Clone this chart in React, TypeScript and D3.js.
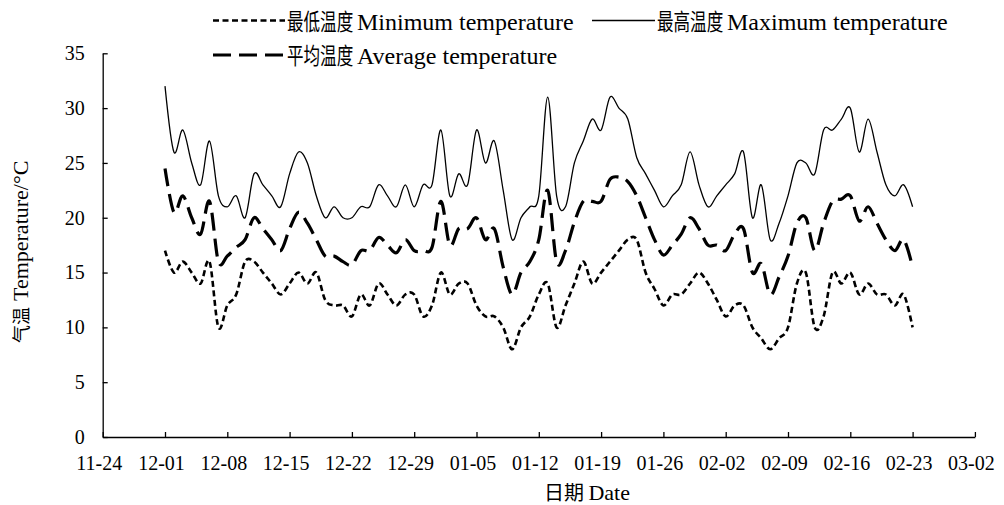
import { MutableRefObject, useLayoutEffect, useRef } from "react";
import * as d3 from "d3";

// daily values, 12-01 .. 02-23
const firstDay = "2018-12-01";
const axisFrom = "2018-11-24";
const axisTo = "2019-03-02";

const maxTemp = [
    32, 26, 28, 25, 23, 27, 22, 21, 22, 20,
    24, 23, 22, 21, 24, 26, 25, 22, 20, 21,
    20, 20, 21, 21, 23, 22, 21, 23, 21, 23,
    23, 28, 22, 24, 23, 28, 25, 27, 22.5, 18,
    20, 21, 22, 31, 22, 21, 25, 27, 29, 28,
    31, 30, 29, 25.5, 24, 22.5, 21, 22, 23, 26,
    23, 21, 22, 23, 24, 26, 20, 23, 18, 19.5,
    22, 25, 25, 24, 28, 28, 29, 30, 26, 29,
    26, 23, 22, 23, 21,
];

const avgTemp = [
    24.5, 20.5, 22, 20, 18.5, 21.5, 16, 16.5, 17.3, 18,
    20, 19, 18, 17, 19, 20.5, 19.5, 18, 16.5, 16.5,
    16, 15.7, 17, 17, 18.2, 17.5, 16.8, 18, 17, 17,
    17.3, 21.5, 17.5, 19, 19, 20, 18, 19, 15.5, 13,
    15, 16, 18, 22.5, 16, 17, 19.6, 21.5, 21.5, 21.5,
    23.5, 23.7, 23.3, 22, 20, 18, 16.6, 17.5, 18.5, 20,
    19, 17.5, 17.5, 17, 18.5, 19, 15, 15.8, 13, 14.6,
    16.5, 19.5, 20, 17, 19.5, 21.5, 21.7, 22, 19.7, 21,
    19.5, 18, 17, 18, 15.5,
];

const minTemp = [
    17, 15, 16, 15, 14, 16, 10, 12, 13, 16,
    16, 15, 14, 13, 14, 15, 14, 15, 12.5, 12,
    12, 11, 13, 12, 14, 13, 12, 13, 13, 11,
    12, 15, 13, 14, 14, 12, 11, 11, 10, 8,
    10, 11, 13, 14, 10, 12, 14, 16, 14, 15,
    16, 17, 18, 18, 15, 13.5, 12, 13, 13, 14,
    15, 14, 12.5, 11, 12, 12, 10, 9, 8, 9,
    10, 14, 15, 10, 11, 15, 14, 15, 13, 14,
    13, 13, 12, 13, 10,
];

const yTicks = [0, 5, 10, 15, 20, 25, 30, 35];

const seriesNames = [
    { cjk: "最低温度", latin: "Minimum temperature" },
    { cjk: "最高温度", latin: "Maximum temperature" },
    { cjk: "平均温度", latin: "Average temperature" },
];
const xTitle = { cjk: "日期", latin: "Date" };
const yTitle = { cjk: "气温", latin: "Temperature/°C" };

const SERIF = "\"Times New Roman\", \"Liberation Serif\", Tinos, \"DejaVu Serif\", serif";
const CJK = "\"Noto Sans CJK SC\", sans-serif";

function App() {
    const svgRef = useRef<SVGSVGElement>() as MutableRefObject<SVGSVGElement | null>;
    useLayoutEffect(() => {
        const svg = svgRef.current!;
        render(svg);
        return () => { svg.innerHTML = ""; };
    }, []);
    return (
        <svg ref={svgRef} width={1004} height={505}
            style={{ position: "absolute", left: 0, top: 0, background: "#fff" }} />
    );
}

function render(el: SVGSVGElement) {
    const root = d3.select(el);
    const parse = d3.utcParse("%Y-%m-%d");
    const start = parse(firstDay)!;
    const dates = maxTemp.map((_, i) => d3.utcDay.offset(start, i));
    const from = parse(axisFrom)!;
    const to = parse(axisTo)!;

    const x = d3.scaleUtc().domain([from, to]).range([102.7, 974.9]);
    const y = d3.scaleLinear().domain([0, 35]).range([437, 53.3]);
    const xTicks = d3.utcDay.range(from, d3.utcDay.offset(to, 1), 7);

    const gx = root.append("g")
        .attr("transform", `translate(0,${y(0)})`)
        .call(d3.axisBottom(x)
            .tickValues(xTicks)
            .tickFormat(d => d3.utcFormat("%m-%d")(d as Date))
            .tickSizeInner(-5).tickSizeOuter(0).tickPadding(19));
    gx.selectAll("text").attr("dx", -4);

    const gy = root.append("g")
        .attr("transform", `translate(${x(from)},0)`)
        .call(d3.axisLeft(y).tickValues(yTicks).tickSizeInner(-5).tickSizeOuter(0).tickPadding(18));

    [gx, gy].forEach(g => {
        g.attr("font-family", SERIF).attr("font-size", 20);
        g.selectAll("path, line").attr("stroke", "#000").attr("stroke-width", 1.3);
        g.selectAll("text").attr("fill", "#000");
    });

    const line = d3.line<number>()
        .x((_, i) => x(dates[i]))
        .y(d => y(d))
        .curve(d3.curveCardinal.tension(0));

    const styles = [
        { data: minTemp, width: 2.6, dash: "6,3.5" },
        { data: maxTemp, width: 1.3, dash: null },
        { data: avgTemp, width: 3.2, dash: "18,8" },
    ];
    styles.forEach(s => {
        root.append("path")
            .attr("d", line(s.data))
            .attr("fill", "none")
            .attr("stroke", "#000")
            .attr("stroke-width", s.width)
            .attr("stroke-dasharray", s.dash);
    });

    // legend
    const legendPos = [
        { x0: 213, x1: 285, y: 20.5 },
        { x0: 592, x1: 655, y: 20.5 },
        { x0: 213, x1: 285, y: 55 },
    ];
    seriesNames.forEach((n, i) => {
        const p = legendPos[i];
        const s = styles[i];
        root.append("line")
            .attr("x1", p.x0).attr("x2", p.x1).attr("y1", p.y).attr("y2", p.y)
            .attr("stroke", "#000")
            .attr("stroke-width", s.width)
            .attr("stroke-dasharray", s.dash);
        root.append("text")
            .attr("transform", `translate(${p.x1 + 2},${p.y + 9}) scale(0.72,1)`)
            .attr("font-family", CJK).attr("font-size", 23)
            .text(n.cjk);
        root.append("text")
            .attr("x", p.x1 + 72).attr("y", p.y + 9)
            .attr("font-family", SERIF).attr("font-size", 24)
            .text(n.latin);
    });

    // y title
    const yt = root.append("g").attr("transform", "translate(28,343) rotate(-90)");
    yt.append("text").attr("font-family", CJK).attr("font-size", 18).text(yTitle.cjk);
    yt.append("text").attr("x", 42).attr("font-family", SERIF).attr("font-size", 22).text(yTitle.latin);

    // x title
    const xt = root.append("text")
        .attr("x", 587).attr("y", 500)
        .attr("text-anchor", "middle");
    xt.append("tspan").attr("font-family", CJK).attr("font-size", 20).text(xTitle.cjk + " ");
    xt.append("tspan").attr("font-family", SERIF).attr("font-size", 22).text(xTitle.latin);
}

export default App;
